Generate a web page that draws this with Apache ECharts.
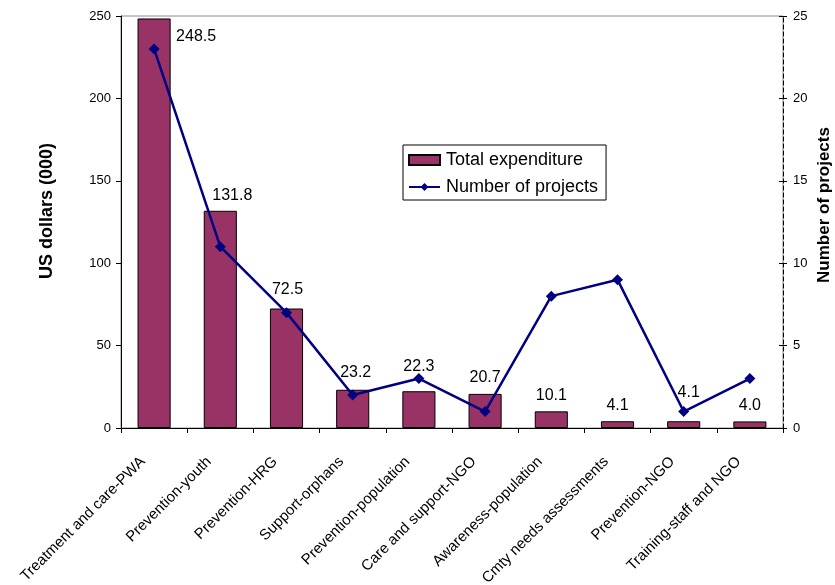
<!DOCTYPE html>
<html>
<head>
<meta charset="utf-8">
<script src="https://cdn.jsdelivr.net/npm/echarts@6/dist/echarts.min.js"></script>
<style>
  html, body { margin: 0; padding: 0; background: #ffffff; }
  #chart { width: 835px; height: 585px; }
</style>
</head>
<body>
<div id="chart"></div>
<script>
// Spending areas
const categories = [
  'Treatment and care-PWA', 'Prevention-youth', 'Prevention-HRG', 'Support-orphans',
  'Prevention-population', 'Care and support-NGO', 'Awareness-population',
  'Cmty needs assessments', 'Prevention-NGO', 'Training-staff and NGO'
];
// Total expenditure, US dollars (000)
const expenditure = [248.5, 131.8, 72.5, 23.2, 22.3, 20.7, 10.1, 4.1, 4.1, 4.0];
// Number of projects per area
const projects = [23, 11, 7, 2, 3, 1, 8, 9, 1, 3];
// Axis tick values
const leftTicks = [0, 50, 100, 150, 200, 250];
const rightTicks = [0, 5, 10, 15, 20, 25];

// Nudges for value labels so they clear the line
const labelNudge = [[42, 34], [12, 1], [1, -3], [3, -1], [0, -9], [0, 0], [0, 0], [0, 0], [5, -13], [0, 0]];

const FONT = "'Liberation Sans', Arial, sans-serif";

const chart = echarts.init(document.getElementById('chart'), null, { renderer: 'canvas' });

const barData = expenditure.map((v, i) => ({
  value: v,
  label: { offset: labelNudge[i] }
}));

chart.setOption({
  animation: false,
  backgroundColor: '#ffffff',
  textStyle: { fontFamily: FONT, color: '#000' },
  grid: {
    left: 121, right: 52, top: 16, bottom: 157,
    outerBoundsMode: 'none',
    containLabel: false,
    show: true, borderColor: '#8c8c8c', borderWidth: 1, backgroundColor: 'transparent'
  },
  legend: {
    orient: 'vertical',
    left: 403, top: 145,
    padding: [5, 8, 3, 5],
    itemGap: 7,
    itemWidth: 31, itemHeight: 10,
    borderColor: '#000', borderWidth: 1, borderRadius: 0,
    backgroundColor: '#fff',
    textStyle: { fontSize: 18, fontFamily: FONT, color: '#000', lineHeight: 20, padding: [0, 0, 0, 1] },
    data: [
      { name: 'Total expenditure', icon: 'rect' },
      { name: 'Number of projects' }
    ]
  },
  xAxis: {
    type: 'category',
    data: categories,
    axisLine: { lineStyle: { color: '#000', width: 1 } },
    axisTick: { show: true, length: 5, lineStyle: { color: '#000' } },
    axisLabel: {
      rotate: 45, fontSize: 15, margin: 20, color: '#000', fontFamily: FONT, interval: 0,
      padding: [0, 16, 0, 0]
    },
    splitLine: { show: false }
  },
  yAxis: [
    {
      type: 'value', min: leftTicks[0], max: leftTicks[leftTicks.length - 1], interval: leftTicks[1] - leftTicks[0],
      position: 'left',
      axisLine: { show: true, lineStyle: { color: '#000', width: 1 } },
      axisTick: { show: true, length: 5, lineStyle: { color: '#000' } },
      axisLabel: { fontSize: 13, margin: 10, color: '#000', fontFamily: FONT },
      splitLine: { show: false }
    },
    {
      type: 'value', min: rightTicks[0], max: rightTicks[rightTicks.length - 1], interval: rightTicks[1] - rightTicks[0],
      position: 'right',
      axisLine: { show: true, lineStyle: { color: '#000', width: 1, type: [4, 3] } },
      axisTick: { show: true, length: 4, lineStyle: { color: '#000' } },
      axisLabel: { fontSize: 13, margin: 10, color: '#000', fontFamily: FONT },
      splitLine: { show: false }
    },
    {
      // inner half of the crossing ticks on the right axis
      type: 'value', min: rightTicks[0], max: rightTicks[rightTicks.length - 1], interval: rightTicks[1] - rightTicks[0],
      position: 'right',
      axisLine: { show: false },
      axisTick: { show: true, inside: true, length: 4, lineStyle: { color: '#000' } },
      axisLabel: { show: false },
      splitLine: { show: false }
    }
  ],
  series: [
    {
      name: 'Total expenditure',
      type: 'bar',
      yAxisIndex: 0,
      barWidth: '50%',
      data: barData,
      itemStyle: { color: '#993366', borderColor: '#000', borderWidth: 1 },
      label: {
        show: true, position: 'top', distance: 8,
        fontSize: 16, color: '#000', fontFamily: FONT,
        formatter: p => p.value.toFixed(1)
      },
      z: 2
    },
    {
      name: 'Number of projects',
      type: 'line',
      yAxisIndex: 1,
      data: projects,
      symbol: 'diamond',
      symbolSize: 11,
      lineStyle: { color: '#000080', width: 2.5 },
      itemStyle: { color: '#000080' },
      z: 3
    }
  ],
  graphic: [
    {
      type: 'text', x: 47, y: 211, rotation: Math.PI / 2,
      style: { text: 'US dollars (000)', fontSize: 18, fontWeight: 'bold', fontFamily: FONT, fill: '#000', align: 'center', verticalAlign: 'middle' }
    },
    {
      type: 'text', x: 824, y: 205, rotation: Math.PI / 2,
      style: { text: 'Number of projects', fontSize: 17, fontWeight: 'bold', fontFamily: FONT, fill: '#000', align: 'center', verticalAlign: 'middle' }
    }
  ]
});
</script>
</body>
</html>
